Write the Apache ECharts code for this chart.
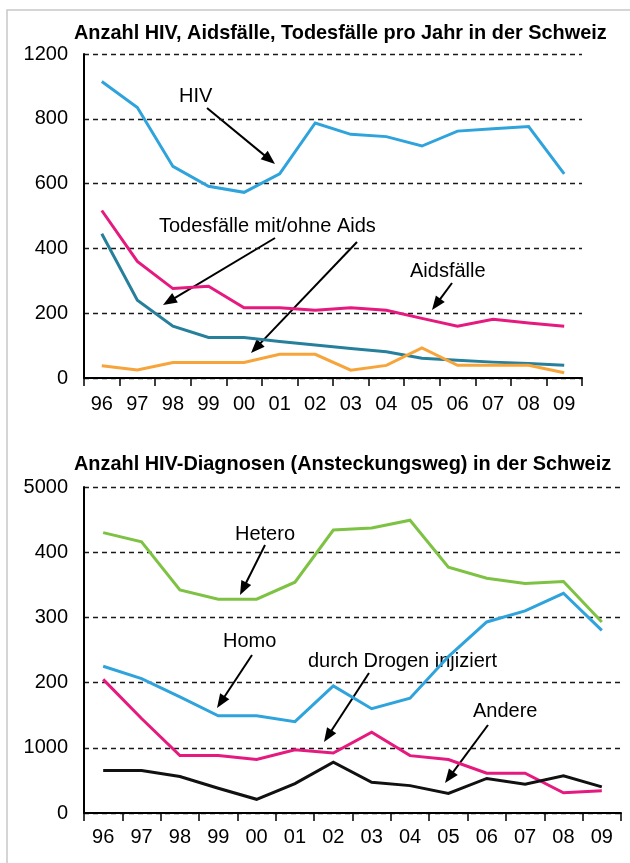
<!DOCTYPE html>
<html>
<head>
<meta charset="utf-8">
<script src="https://cdn.jsdelivr.net/npm/echarts@6/dist/echarts.min.js"></script>
<style>
  html, body { margin: 0; padding: 0; background: #fff; }
  #chart { width: 630px; height: 863px; }
</style>
</head>
<body>
<div id="chart"></div>
<script>
  // Jahre (x-Achse)
  const years = ['96', '97', '98', '99', '00', '01', '02', '03', '04', '05', '06', '07', '08', '09'];

  // oberes Diagramm
  const topYLabels = ['0', '200', '400', '600', '800', '1200'];
  const hiv = [915, 835, 653, 592, 573, 630, 787, 752, 745, 716, 762, 769, 776, 630];
  const aidsfaelle = [517, 360, 276, 283, 217, 217, 209, 217, 209, 184, 160, 181, 170, 160];
  const todesfaelleA = [445, 240, 160, 125, 125, 113, 102, 91, 81, 61, 55, 49, 45, 39];
  const todesfaelleB = [38, 25, 48, 48, 48, 73, 73, 24, 39, 93, 39, 39, 39, 16];

  // unteres Diagramm
  const bottomYLabels = ['0', '1000', '200', '300', '400', '5000'];
  const hetero = [430, 416, 342, 328, 328, 354, 434, 437, 449, 377, 360, 352, 355, 293];
  const homo = [225, 206, 178, 149, 149, 140, 195, 160, 176, 240, 293, 310, 337, 280];
  const drogen = [205, 145, 88, 88, 82, 97, 92, 124, 88, 82, 61, 61, 31, 34];
  const andere = [65, 65, 56, 38, 21, 45, 78, 47, 42, 30, 53, 44, 57, 40];

  const FONT = '"Liberation Sans", Arial, Helvetica, sans-serif';

  function arrow(x1, y1, x2, y2) {
    const dx = x2 - x1, dy = y2 - y1;
    const len = Math.sqrt(dx * dx + dy * dy);
    const ux = dx / len, uy = dy / len;
    const hl = 14, hw = 5.5;
    const bx = x2 - ux * hl, by = y2 - uy * hl;
    return [
      { type: 'line', shape: { x1: x1, y1: y1, x2: bx + ux * 2, y2: by + uy * 2 },
        style: { stroke: '#000', lineWidth: 2 } },
      { type: 'polygon', shape: { points: [[x2, y2], [bx - uy * hw, by + ux * hw], [bx + uy * hw, by - ux * hw]] },
        style: { fill: '#000' } }
    ];
  }

  function label(text, x, y) {
    return { type: 'text', style: { text: text, x: x, y: y, font: '20px ' + FONT, fill: '#000',
      textAlign: 'left', textVerticalAlign: 'middle', verticalAlign: 'middle' } };
  }

  function title(text, x, y) {
    return { type: 'text', style: { text: text, x: x, y: y, font: 'bold 19.9px ' + FONT, fill: '#000',
      textAlign: 'left', textVerticalAlign: 'middle', verticalAlign: 'middle' } };
  }

  const graphics = [
    { type: 'rect', shape: { x: 7, y: 10, width: 700, height: 900 },
      style: { fill: 'none', stroke: '#c8c8c8', lineWidth: 1.5 } },
    title('Anzahl HIV, Aidsfälle, Todesfälle pro Jahr in der Schweiz', 74, 34),
    title('Anzahl HIV-Diagnosen (Ansteckungsweg) in der Schweiz', 74, 465),
    label('HIV', 179, 96),
    label('Todesfälle mit/ohne Aids', 159, 226),
    label('Aidsfälle', 410, 271),
    label('Hetero', 235, 534),
    label('Homo', 223, 641),
    label('durch Drogen injiziert', 308, 661),
    label('Andere', 473, 711)
  ].concat(
    arrow(207, 108, 275, 164),
    arrow(275, 238, 163, 305),
    arrow(357, 242, 251, 353),
    arrow(452, 283, 432, 310),
    arrow(265, 545, 240, 595),
    arrow(252, 655, 217, 708),
    arrow(369, 673, 324, 742),
    arrow(488, 725, 445, 783)
  );

  function xAxisOf(gridIndex, margin) {
    return {
      type: 'category', gridIndex: gridIndex, data: years, boundaryGap: true,
      axisLine: { lineStyle: { color: '#000', width: 2 } },
      axisTick: { show: true, length: 8, lineStyle: { color: '#000', width: 1.5 } },
      axisLabel: { color: '#000', fontSize: 20, fontFamily: FONT, margin: margin, interval: 0 },
      splitLine: { show: false }
    };
  }

  function yAxisOf(gridIndex, max, interval, labels) {
    return {
      type: 'value', gridIndex: gridIndex, min: 0, max: max, interval: interval,
      axisLine: { show: true, lineStyle: { color: '#000', width: 2 } },
      axisTick: { show: false },
      axisLabel: { color: '#000', fontSize: 20, fontFamily: FONT, margin: 16,
        formatter: function (v) { return labels[Math.round(v / interval)]; } },
      splitLine: { show: true, lineStyle: { color: '#1a1a1a', width: 1.4, type: [5, 4] } }
    };
  }

  function line(name, data, color, xi) {
    return {
      name: name, type: 'line', data: data, xAxisIndex: xi, yAxisIndex: xi,
      symbol: 'none', smooth: false, z: 3,
      lineStyle: { color: color, width: 3, join: 'miter' }
    };
  }

  const myChart = echarts.init(document.getElementById('chart'));
  myChart.setOption({
    animation: false,
    backgroundColor: '#fff',
    grid: [
      { left: 84, right: 48, top: 54, bottom: 485 },
      { left: 84, right: 9, top: 487, bottom: 50 }
    ],
    xAxis: [xAxisOf(0, 16), xAxisOf(1, 14)],
    yAxis: [yAxisOf(0, 1000, 200, topYLabels), yAxisOf(1, 500, 100, bottomYLabels)],
    series: [
      line('HIV', hiv, '#2fa3dc', 0),
      line('Aidsfälle', aidsfaelle, '#e6197f', 0),
      line('Todesfälle A', todesfaelleA, '#26809c', 0),
      line('Todesfälle B', todesfaelleB, '#f7a43a', 0),
      line('Hetero', hetero, '#7dc243', 1),
      line('Homo', homo, '#2fa3dc', 1),
      line('durch Drogen injiziert', drogen, '#e6197f', 1),
      line('Andere', andere, '#111111', 1)
    ],
    graphic: graphics
  });
</script>
</body>
</html>
